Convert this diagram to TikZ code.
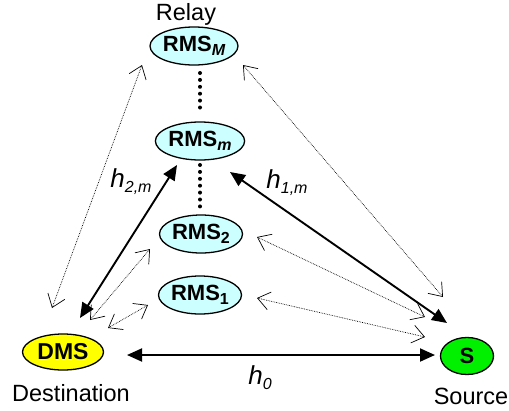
\documentclass[tikz,border=0pt]{standalone}
\usepackage{fontspec}
\setmainfont{Liberation Sans}
\usetikzlibrary{shapes.geometric,arrows.meta,calc}
\definecolor{relaycyan}{RGB}{204,255,255}
\definecolor{dmsyellow}{RGB}{255,255,0}
\definecolor{srcgreen}{RGB}{0,240,0}
\newcommand{\lowidx}[1]{\raisebox{-0.35ex}{\fontsize{16}{16}\selectfont #1}}
\begin{document}
\begin{tikzpicture}[x=1pt,y=-1pt,
		mobile/.style={ellipse,draw=black,line width=1.3pt,inner sep=0pt,minimum width=83pt,minimum height=38pt,font=\fontsize{22}{24}\selectfont\bfseries},
		chan/.style={line width=1.9pt,{Triangle[length=15pt,width=13pt]}-{Triangle[length=15pt,width=13pt]}},
		weak/.style={line width=0.7pt,densely dotted,{Straight Barb[length=12pt,width=18pt]}-{Straight Barb[length=12pt,width=18pt]}},
		dots/.style={line width=4pt,line cap=round,dash pattern=on 0pt off 6.9pt},
		caption/.style={font=\fontsize{23.5}{26}\selectfont},
		gain/.style={font=\fontsize{26}{28}\selectfont\itshape}]
		\useasboundingbox (0,0) rectangle (509,410);
		% relays
		\node[mobile,fill=relaycyan] (rmsM) at (194,46) {RMS\lowidx{\itshape M}};
		\node[mobile,fill=relaycyan] (rmsm) at (200,141) {RMS\lowidx{\itshape m}};
		\node[mobile,fill=relaycyan] (rms2) at (201,234) {RMS\lowidx{2}};
		\node[mobile,fill=relaycyan] (rms1) at (200,295) {RMS\lowidx{1}};
		\node[caption] (relay) at (186,14) {Relay};
		% end points
		\node[mobile,fill=dmsyellow,minimum width=81pt,minimum height=36pt,font=\fontsize{23}{25}\selectfont\bfseries] (dms) at (63,352) {DMS};
		\node[mobile,fill=srcgreen,minimum width=53pt,minimum height=37pt] (src) at (467,356) {S};
		\node[caption] (dest) at (71,393) {Destination};
		\node[caption] (source) at (471,396) {Source};
		% dots between relays
		\draw[dots] ($(rmsm)+(0,-68)$) -- ($(rmsm)+(0,-33)$);
		\draw[dots] ($(rmsm)+(0,24)$) -- ($(rmsm)+(0,66)$);
		% strong links
		\draw[chan] ($(dms)+(64,3)$) -- ($(src)+(-32,-1)$);
		\draw[chan] ($(dms)+(17,-34)$) -- ($(rmsm)+(-23,24)$);
		\draw[chan] ($(src)+(-20,-33)$) -- ($(rmsm)+(30,31)$);
		% weak links
		\draw[weak] ($(dms)+(-11,-44)$) -- ($(rmsM)+(-52,19)$);
		\draw[weak] ($(dms)+(27,-32)$) -- ($(rms2)+(-51,15)$);
		\draw[weak] ($(dms)+(45,-24)$) -- ($(rms1)+(-52,10)$);
		\draw[weak] ($(src)+(-24,-59)$) -- ($(rmsM)+(49,19)$);
		\draw[weak] ($(src)+(-42,-39)$) -- ($(rms2)+(56,3)$);
		\draw[weak] ($(src)+(-42,-19)$) -- ($(rms1)+(57,3)$);
		% gains
		\node[gain] (h2m) at (131,182) {h\lowidx{2,m}};
		\node[gain] (h1m) at (287,183) {h\lowidx{1,m}};
		\node[gain] (h0) at (260,378) {h\lowidx{0}};
	\end{tikzpicture}
\end{document}
